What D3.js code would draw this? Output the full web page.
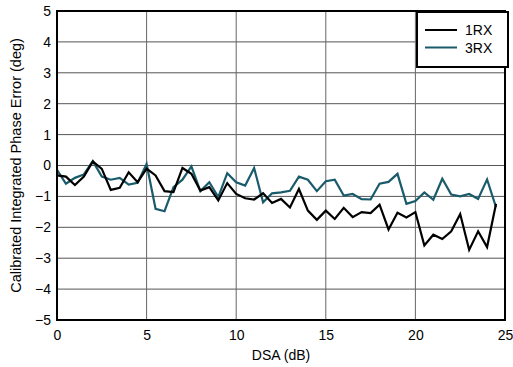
<!DOCTYPE html>
<html><head><meta charset="utf-8">
<script src="https://cdn.jsdelivr.net/npm/d3@7"></script>
<style>body{margin:0;background:#fff}svg text{font-family:"Liberation Sans",Arial,sans-serif}</style>
</head><body><svg id="c" width="513" height="367"></svg>
<script>
const dsa = [0,0.5,1,1.5,2,2.5,3,3.5,4,4.5,5,5.5,6,6.5,7,7.5,8,8.5,9,9.5,10,10.5,11,11.5,12,12.5,13,13.5,14,14.5,15,15.5,16,16.5,17,17.5,18,18.5,19,19.5,20,20.5,21,21.5,22,22.5,23,23.5,24,24.5];
const rx1 = [-0.32,-0.36,-0.63,-0.36,0.13,-0.11,-0.79,-0.72,-0.22,-0.54,-0.1,-0.32,-0.83,-0.86,-0.08,-0.27,-0.81,-0.70,-1.13,-0.57,-0.92,-1.06,-1.10,-0.90,-1.21,-1.08,-1.36,-0.76,-1.46,-1.76,-1.46,-1.73,-1.37,-1.67,-1.51,-1.54,-1.27,-2.07,-1.53,-1.68,-1.51,-2.59,-2.24,-2.38,-2.13,-1.57,-2.73,-2.13,-2.64,-1.24];
const rx3 = [-0.14,-0.59,-0.40,-0.29,0.14,-0.36,-0.46,-0.40,-0.62,-0.56,0.05,-1.40,-1.48,-0.70,-0.46,-0.03,-0.83,-0.54,-1.02,-0.25,-0.54,-0.65,-0.08,-1.19,-0.90,-0.87,-0.82,-0.36,-0.46,-0.83,-0.51,-0.46,-0.97,-0.92,-1.09,-1.10,-0.59,-0.53,-0.27,-1.24,-1.15,-0.87,-1.11,-0.43,-0.94,-1.00,-0.92,-1.08,-0.45,-1.35];
const xTicks = [0,5,10,15,20,25];
const yTicks = [-5,-4,-3,-2,-1,0,1,2,3,4,5];
const series = [{name:"1RX", vals:rx1, color:"#000000"},{name:"3RX", vals:rx3, color:"#1a5b6b"}];

const svg = d3.select("#c");
const x = d3.scaleLinear().domain([0,25]).range([57,505]);
const y = d3.scaleLinear().domain([-5,5]).range([320,11]);

// grid
svg.append("g").selectAll("line").data(yTicks).join("line")
  .attr("x1",x(0)).attr("x2",x(25)).attr("y1",d=>y(d)).attr("y2",d=>y(d))
  .attr("stroke","#555").attr("stroke-width",1);
svg.append("g").selectAll("line").data(xTicks).join("line")
  .attr("y1",y(-5)).attr("y2",y(5)).attr("x1",d=>x(d)).attr("x2",d=>x(d))
  .attr("stroke","#666").attr("stroke-width",1);

// axes labels
const xa = svg.append("g").attr("transform",`translate(0,${y(-5)})`)
  .call(d3.axisBottom(x).tickValues(xTicks).tickSize(0).tickPadding(10).tickFormat(d3.format("d")));
xa.select(".domain").remove();
xa.selectAll("text").attr("font-size",14).attr("fill","#000").attr("font-family","Liberation Sans, Arial, sans-serif");
const ya = svg.append("g").attr("transform",`translate(${x(0)},0)`)
  .call(d3.axisLeft(y).tickValues(yTicks).tickSize(0).tickPadding(6).tickFormat(d3.format("d")));
ya.select(".domain").remove();
ya.selectAll("text").attr("font-size",14).attr("fill","#000").attr("font-family","Liberation Sans, Arial, sans-serif");

// lines
const line = d3.line().x((d,i)=>x(dsa[i])).y(d=>y(d));
series.slice().reverse().forEach(s=>{
  svg.append("path").datum(s.vals).attr("d",line).attr("fill","none")
    .attr("stroke",s.color).attr("stroke-width",2.2).attr("stroke-linejoin","miter");
});

// border
svg.append("rect").attr("x",x(0)).attr("y",y(5)).attr("width",x(25)-x(0)).attr("height",y(-5)-y(5))
  .attr("fill","none").attr("stroke","#000").attr("stroke-width",2);

// legend
const lg = svg.append("g");
lg.append("rect").attr("x",417).attr("y",12).attr("width",91).attr("height",55)
  .attr("fill","#fff").attr("stroke","#000").attr("stroke-width",2);
series.forEach((s,i)=>{
  const yy = 30 + i*17.5;
  lg.append("line").attr("x1",425).attr("x2",457).attr("y1",yy).attr("y2",yy)
    .attr("stroke",s.color).attr("stroke-width",2);
  lg.append("text").attr("x",465).attr("y",yy+5).attr("font-size",14).text(s.name);
});

// titles
svg.append("text").attr("x",(x(0)+x(25))/2).attr("y",360).attr("text-anchor","middle")
  .attr("font-size",14).text("DSA (dB)");
svg.append("text").attr("transform",`translate(21,${y(0)}) rotate(-90)`).attr("text-anchor","middle")
  .attr("font-size",14.5).text("Calibrated Integrated Phase Error (deg)");
</script></body></html>
